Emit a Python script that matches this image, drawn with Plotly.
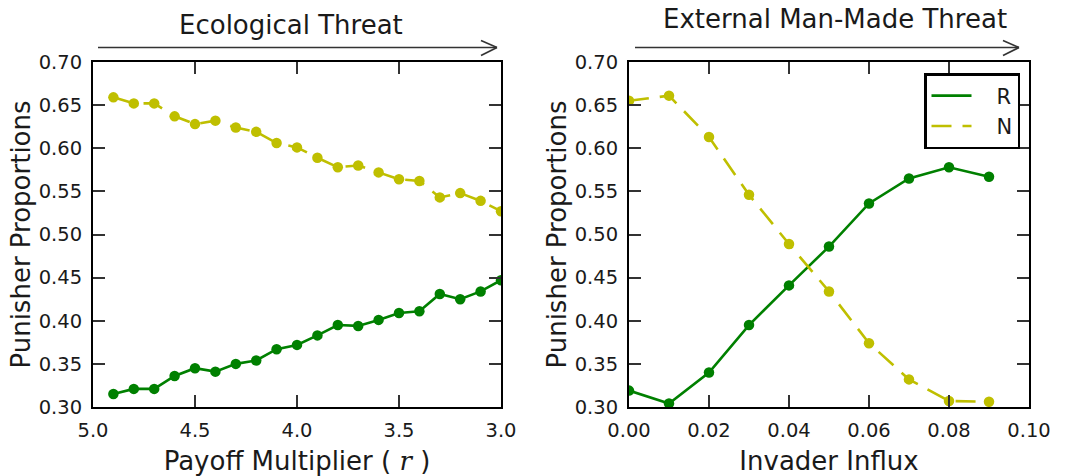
import plotly.graph_objects as go

# ---- data ----
r_values = [4.9, 4.8, 4.7, 4.6, 4.5, 4.4, 4.3, 4.2, 4.1, 4.0,
            3.9, 3.8, 3.7, 3.6, 3.5, 3.4, 3.3, 3.2, 3.1, 3.0]
eco_R = [0.315, 0.321, 0.321, 0.336, 0.345, 0.341, 0.350, 0.354, 0.367, 0.372,
         0.383, 0.395, 0.394, 0.401, 0.409, 0.411, 0.431, 0.425, 0.434, 0.447]
eco_N = [0.659, 0.652, 0.652, 0.637, 0.628, 0.632, 0.624, 0.619, 0.606, 0.601,
         0.589, 0.578, 0.580, 0.572, 0.564, 0.562, 0.543, 0.548, 0.539, 0.527]

influx = [0.00, 0.01, 0.02, 0.03, 0.04, 0.05, 0.06, 0.07, 0.08, 0.09]
ext_R = [0.319, 0.304, 0.340, 0.395, 0.441, 0.486, 0.536, 0.565, 0.578, 0.567]
ext_N = [0.655, 0.661, 0.613, 0.546, 0.489, 0.434, 0.374, 0.332, 0.307, 0.306]

left_xticks = [5.0, 4.5, 4.0, 3.5, 3.0]
right_xticks = [0.00, 0.02, 0.04, 0.06, 0.08, 0.10]
yticks = [0.30, 0.35, 0.40, 0.45, 0.50, 0.55, 0.60, 0.65, 0.70]

GREEN = "#008000"
YELLOW = "#bfbf00"
FONT = "DejaVu Sans"
TXT = "#1a1a1a"
W, H = 1070, 476

fig = go.Figure()

line_w = 2.6
msize = 10.5
dash = "20px,11px"

fig.add_trace(go.Scatter(x=r_values, y=eco_R, mode="lines+markers", xaxis="x", yaxis="y",
                         line=dict(color=GREEN, width=line_w), marker=dict(color=GREEN, size=msize),
                         showlegend=False))
fig.add_trace(go.Scatter(x=r_values, y=eco_N, mode="lines+markers", xaxis="x", yaxis="y",
                         line=dict(color=YELLOW, width=line_w, dash=dash), marker=dict(color=YELLOW, size=msize),
                         showlegend=False))
fig.add_trace(go.Scatter(x=influx, y=ext_R, mode="lines+markers", xaxis="x2", yaxis="y2",
                         line=dict(color=GREEN, width=line_w), marker=dict(color=GREEN, size=msize),
                         showlegend=False))
fig.add_trace(go.Scatter(x=influx, y=ext_N, mode="lines+markers", xaxis="x2", yaxis="y2",
                         line=dict(color=YELLOW, width=line_w, dash=dash), marker=dict(color=YELLOW, size=msize),
                         showlegend=False))
# legend entries (line only)
fig.add_trace(go.Scatter(x=[None], y=[None], mode="lines", xaxis="x2", yaxis="y2",
                         name="\u00a0\u00a0\u00a0R",
                         line=dict(color=GREEN, width=line_w)))
fig.add_trace(go.Scatter(x=[None], y=[None], mode="lines", xaxis="x2", yaxis="y2",
                         name="\u00a0\u00a0\u00a0N",
                         line=dict(color=YELLOW, width=line_w, dash=dash)))

def px_x(p):
    return p / W

def px_y(p):
    return 1 - p / H

axis_common = dict(showline=True, linecolor="black", linewidth=2, mirror="ticks",
                   ticks="inside", ticklen=12, tickwidth=1.5, tickcolor="#333333",
                   showgrid=False, zeroline=False, automargin=False,
                   ticklabelstandoff=5,
                   tickfont=dict(family=FONT, size=19.5, color=TXT))

yax = dict(axis_common, range=[0.30, 0.70], tickvals=yticks,
           ticktext=[f"{v:.2f}" for v in yticks],
           domain=[px_y(407), px_y(62)],
           title=dict(text="Punisher Proportions", font=dict(family=FONT, size=26, color=TXT), standoff=1))

fig.update_layout(
    width=W, height=H,
    margin=dict(l=0, r=0, t=0, b=0),
    paper_bgcolor="white", plot_bgcolor="white",
    xaxis=dict(axis_common, range=[5.0, 3.0], tickvals=left_xticks,
               ticktext=[f"{v:.1f}" for v in left_xticks],
               domain=[px_x(93), px_x(501)], anchor="y",
               title=dict(text="Payoff Multiplier ( <span style=\"font-family:DejaVu Serif\"><i>r</i></span> )",
                          font=dict(family=FONT, size=26, color=TXT), standoff=10)),
    yaxis=dict(yax, anchor="x"),
    xaxis2=dict(axis_common, range=[0.0, 0.10], tickvals=right_xticks,
                ticktext=[f"{v:.2f}" for v in right_xticks],
                domain=[px_x(629), px_x(1029)], anchor="y2",
                title=dict(text="Invader Influx", font=dict(family=FONT, size=26, color=TXT), standoff=10)),
    yaxis2=dict(yax, anchor="x2"),
    legend=dict(x=px_x(924), y=px_y(73), xanchor="left", yanchor="top",
                bordercolor="black", borderwidth=2.5, bgcolor="white",
                font=dict(family=FONT, size=21, color=TXT),
                itemwidth=40, tracegroupgap=0),
    font=dict(family=FONT),
)

# titles above panels
fig.add_annotation(text="Ecological Threat", x=px_x(291), y=px_y(25), xref="paper", yref="paper",
                   showarrow=False, xanchor="center", yanchor="middle",
                   font=dict(family=FONT, size=26, color=TXT))
fig.add_annotation(text="External Man-Made Threat", x=px_x(835), y=px_y(19), xref="paper", yref="paper",
                   showarrow=False, xanchor="center", yanchor="middle",
                   font=dict(family=FONT, size=26, color=TXT))

# arrows (open chevron heads)
def add_arrow(x0, x1, y):
    style = dict(color="#333333", width=1.6)
    fig.add_shape(type="line", xref="paper", yref="paper", x0=px_x(x0), x1=px_x(x1), y0=px_y(y), y1=px_y(y), line=style)
    fig.add_shape(type="line", xref="paper", yref="paper", x0=px_x(x1 - 16), x1=px_x(x1), y0=px_y(y - 7), y1=px_y(y), line=style)
    fig.add_shape(type="line", xref="paper", yref="paper", x0=px_x(x1 - 16), x1=px_x(x1), y0=px_y(y + 8), y1=px_y(y), line=style)

add_arrow(98, 497, 47.5)
add_arrow(635, 1019, 47.5)

fig.write_html("out.html")
